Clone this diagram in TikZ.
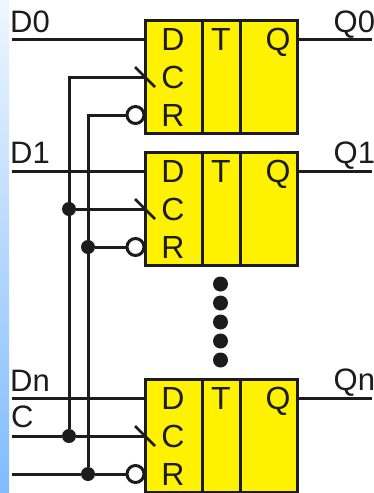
\documentclass[tikz,border=0pt]{standalone}
\usepackage{fontspec}
\setmainfont{Liberation Sans}
\definecolor{ink}{HTML}{1C1C1C}
\definecolor{stripTop}{HTML}{EEF6FF}
\definecolor{stripBot}{HTML}{80BBFF}
\tikzset{
  cell/.style={draw=ink, fill=yellow, line width=3pt, minimum height=113pt, inner sep=0pt, outer sep=0pt},
  wire/.style={draw=ink, line width=3pt},
  tick/.style={draw=ink, line width=2.5pt},
  inv/.style={draw=ink, fill=white, circle, line width=3pt, minimum size=17pt, inner sep=0pt, outer sep=0pt},
  joint/.style={fill=ink, circle, minimum size=14pt, inner sep=0pt, outer sep=0pt},
  gap/.style={fill=ink, circle, minimum size=15pt, inner sep=0pt, outer sep=0pt},
  lbl/.style={text=ink, inner sep=0pt, anchor=base, font=\fontsize{32}{34}\selectfont},
  pinlbl/.style={lbl, anchor=base west, font=\fontsize{31}{33}\selectfont}
}

\begin{document}
\begin{tikzpicture}[x=1pt,y=-1pt]
\useasboundingbox (0,0) rectangle (374,493);
\shade[top color=stripTop, bottom color=stripBot] (0,0) rectangle (9,493);
% block 0
\node[cell, minimum width=56.5pt] (d0) at (173.75,77) {};
\node[cell, minimum width=38pt] (t0) at (221,77) {};
\node[cell, minimum width=57pt] (q0) at (268.5,77) {};
% block 1
\node[cell, minimum width=56.5pt] (d1) at (173.75,209) {};
\node[cell, minimum width=38pt] (t1) at (221,209) {};
\node[cell, minimum width=57pt] (q1) at (268.5,209) {};
% block n
\node[cell, minimum width=56.5pt] (dn) at (173.75,436) {};
\node[cell, minimum width=38pt] (tn) at (221,436) {};
\node[cell, minimum width=57pt] (qn) at (268.5,436) {};
% letters in the blocks
\node[lbl] (ld0) at (173,50) {D};
\node[lbl] (lc0) at (173,88) {C};
\node[lbl] (lr0) at (173,126) {R};
\node[lbl] (lt0) at (221,50) {T};
\node[lbl] (lq0) at (278,50) {Q};
\node[lbl] (ld1) at (173,182) {D};
\node[lbl] (lc1) at (173,220) {C};
\node[lbl] (lr1) at (173,258) {R};
\node[lbl] (lt1) at (221,182) {T};
\node[lbl] (lq1) at (278,182) {Q};
\node[lbl] (ldn) at (173,409) {D};
\node[lbl] (lcn) at (173,447) {C};
\node[lbl] (lrn) at (173,485) {R};
\node[lbl] (ltn) at (221,409) {T};
\node[lbl] (lqn) at (278,409) {Q};
% names of the pins
\node[pinlbl] (nd0) at (10,32) {D0};
\node[pinlbl] (nd1) at (10,163) {D1};
\node[pinlbl] (ndn) at (10,391) {Dn};
\node[pinlbl] (nc) at (11,427) {C};
\node[pinlbl] (nq0) at (333.5,32) {Q0};
\node[pinlbl] (nq1) at (333.5,163) {Q1};
\node[pinlbl] (nqn) at (333.5,390) {Qn};
% dots between the blocks
\node[gap] (g1) at (220.5,284) {};
\node[gap] (g2) at (220.5,303) {};
\node[gap] (g3) at (220.5,322) {};
\node[gap] (g4) at (220.5,341) {};
\node[gap] (g5) at (220.5,360) {};
% reset circles and joints
\node[inv] (r0) at (135.5,115) {};
\node[inv] (r1) at (135.5,247) {};
\node[inv] (rn) at (135.5,474) {};
\node[joint] (jc1) at (69,209) {};
\node[joint] (jr1) at (88,247) {};
\node[joint] (jcn) at (69,436) {};
\node[joint] (jrn) at (88,474) {};
% free ends and pins
\coordinate (ind0) at (12,39);
\coordinate (ind1) at (12,171);
\coordinate (indn) at (12,398);
\coordinate (inc) at (12,436);
\coordinate (inr) at (12,474);
\coordinate (pd0) at (145,39);
\coordinate (pd1) at (145,171);
\coordinate (pdn) at (145,398);
\coordinate (pq0) at (297,39);
\coordinate (pq1) at (297,171);
\coordinate (pqn) at (297,398);
\coordinate (out0) at (372,39);
\coordinate (out1) at (372,171);
\coordinate (outn) at (372,398);
\coordinate (k0a) at (135,67);
\coordinate (k0b) at (155,87);
\coordinate (k1a) at (135,199);
\coordinate (k1b) at (155,219);
\coordinate (kna) at (135,426);
\coordinate (knb) at (155,446);
% wires
\path[wire] (ind0) -- (pd0);
\path[wire] (ind1) -- (pd1);
\path[wire] (indn) -- (pdn);
\path[wire] (pq0) -- (out0);
\path[wire] (pq1) -- (out1);
\path[wire] (pqn) -- (outn);
\path[wire] (jcn) |- (d0.west);
\path[wire] (jrn) |- (r0);
\path[wire] (jc1) -- (d1.west);
\path[wire] (jr1) -- (r1);
\path[wire] (inc) -- (jcn);
\path[wire] (jcn) -- (dn.west);
\path[wire] (inr) -- (jrn);
\path[wire] (jrn) -- (rn);
% clock ticks
\path[tick] (k0a) -- (k0b);
\path[tick] (k1a) -- (k1b);
\path[tick] (kna) -- (knb);
\end{tikzpicture}
\end{document}
